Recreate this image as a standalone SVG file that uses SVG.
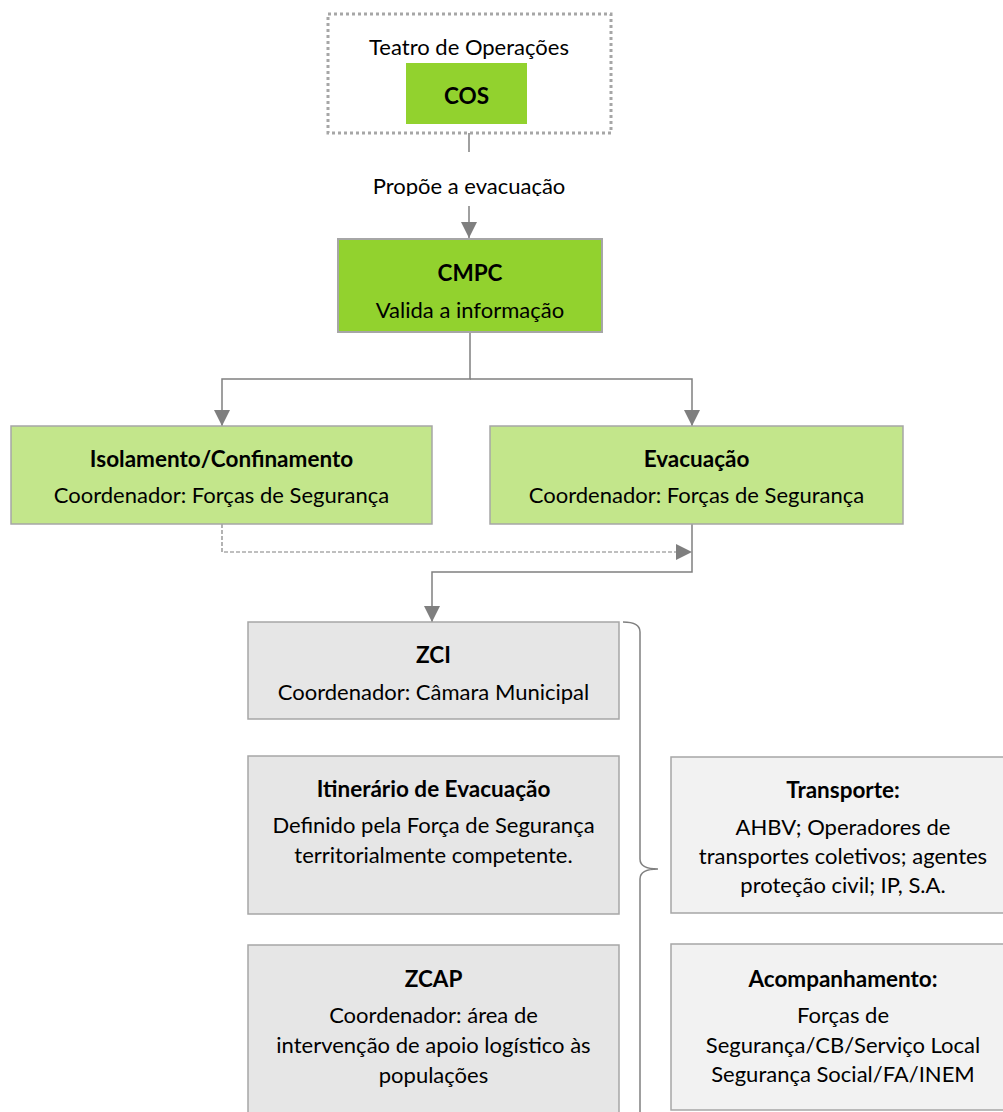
<svg xmlns="http://www.w3.org/2000/svg" width="1003" height="1112" viewBox="0 0 1003 1112">
  <style>
    .t { font-family: Lato, "Liberation Sans", sans-serif; font-size: 22px; fill: #000; text-anchor: middle; }
    .b { font-weight: bold; font-size: 22.5px; }
    .box { stroke: #a6a6a6; stroke-width: 1.5; }
    .dark { fill: #92d22e; }
    .light { fill: #c3e68b; }
    .grey { fill: #e6e6e6; }
    .pale { fill: #f2f2f2; }
    .conn { fill: none; stroke: #808080; stroke-width: 1.5; }
    .dash { stroke-dasharray: 4 2; stroke-width: 1.2; }
  </style>
  <defs>
    <marker id="arrow" viewBox="0 0 16 16" refX="16" refY="8" markerWidth="16" markerHeight="16" markerUnits="userSpaceOnUse" orient="auto">
      <path d="M0,0 L16,8 L0,16 Z" fill="#7f7f7f"/>
    </marker>
    <clipPath id="labelClip">
      <rect x="300" y="160" width="340" height="36"/>
    </clipPath>
  </defs>
  <rect width="1003" height="1112" fill="#fff"/>

  <!-- connectors -->
  <g id="connectors">
    <line class="conn" x1="469" y1="133" x2="469" y2="152"/>
    <line class="conn" x1="469" y1="206" x2="469" y2="238" marker-end="url(#arrow)"/>
    <path class="conn" d="M470 332 V379 H222 V426" marker-end="url(#arrow)"/>
    <path class="conn" d="M470 379 H692 V426" marker-end="url(#arrow)"/>
    <path class="conn dash" d="M222 524 V552 H692" marker-end="url(#arrow)"/>
    <path class="conn" d="M692 524 V572 H432 V622" marker-end="url(#arrow)"/>
    <!-- brace grouping the evacuation steps -->
    <path class="conn" stroke-width="2" d="M623 622 Q640 622 640 632 V859 Q640 869 658 869 Q640 869 640 879 V1120"/>
    <g clip-path="url(#labelClip)">
      <text class="t" x="469" y="194">Propõe a evacuação</text>
    </g>
  </g>

  <!-- theatre of operations -->
  <g id="teatro">
    <rect x="328" y="14" width="283" height="119" fill="none" stroke="#a6a6a6" stroke-width="3" stroke-dasharray="3 3"/>
    <text class="t" x="469" y="55">Teatro de Operações</text>
  </g>
  <g id="cos">
    <rect class="dark" x="406" y="63" width="121" height="61"/>
    <text class="t b" x="466.5" y="104">COS</text>
  </g>

  <g id="cmpc">
    <rect class="dark" x="338" y="239" width="264" height="93" stroke="#a6a6a6" stroke-width="2"/>
    <text class="t b" x="470" y="281">CMPC</text>
    <text class="t" x="470" y="318">Valida a informação</text>
  </g>

  <g id="isolamento">
    <rect class="box light" x="11" y="426" width="421" height="98"/>
    <text class="t b" x="221.5" y="467">Isolamento/Confinamento</text>
    <text class="t" x="221.5" y="503">Coordenador: Forças de Segurança</text>
  </g>

  <g id="evacuacao">
    <rect class="box light" x="490" y="426" width="413" height="98"/>
    <text class="t b" x="696.5" y="467">Evacuação</text>
    <text class="t" x="696.5" y="503">Coordenador: Forças de Segurança</text>
  </g>

  <g id="zci">
    <rect class="box grey" x="248" y="622" width="371" height="97"/>
    <text class="t b" x="433.5" y="663">ZCI</text>
    <text class="t" x="433.5" y="700">Coordenador: Câmara Municipal</text>
  </g>

  <g id="itinerario">
    <rect class="box grey" x="248" y="756" width="371" height="158"/>
    <text class="t b" x="433.5" y="797">Itinerário de Evacuação</text>
    <text class="t" x="433.5" y="833">Definido pela Força de Segurança</text>
    <text class="t" x="433.5" y="863">territorialmente competente.</text>
  </g>

  <g id="zcap">
    <rect class="box grey" x="248" y="945" width="371" height="180"/>
    <text class="t b" x="433.5" y="987">ZCAP</text>
    <text class="t" x="433.5" y="1023">Coordenador: área de</text>
    <text class="t" x="433.5" y="1053">intervenção de apoio logístico às</text>
    <text class="t" x="433.5" y="1083">populações</text>
  </g>

  <g id="transporte">
    <rect class="box pale" x="671" y="757" width="344" height="156"/>
    <text class="t b" x="843" y="798">Transporte:</text>
    <text class="t" x="843" y="835">AHBV; Operadores de</text>
    <text class="t" x="843" y="864">transportes coletivos; agentes</text>
    <text class="t" x="843" y="893">proteção civil; IP, S.A.</text>
  </g>

  <g id="acompanhamento">
    <rect class="box pale" x="671" y="944" width="344" height="166"/>
    <text class="t b" x="843" y="987">Acompanhamento:</text>
    <text class="t" x="843" y="1023">Forças de</text>
    <text class="t" x="843" y="1053">Segurança/CB/Serviço Local</text>
    <text class="t" x="843" y="1082">Segurança Social/FA/INEM</text>
  </g>
</svg>
